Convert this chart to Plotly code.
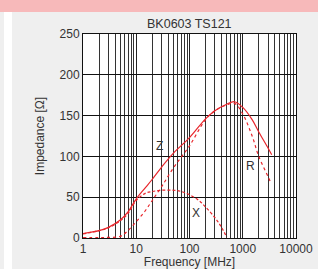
import math
import plotly.graph_objects as go

freq_z = [1, 2, 3, 5, 7, 10, 15, 20, 30, 50, 100, 200, 300, 500, 700, 1000, 1500, 2000, 3000, 3500]
z_vals = [5.5, 9, 13, 22, 32, 48, 62, 72, 87, 104, 123, 146, 156, 164, 167, 160, 145, 130, 110, 102]

freq_r = [1, 2, 3, 5, 7, 10, 15, 20, 30, 50, 100, 200, 300, 500, 700, 1000, 1500, 2000, 3000, 3300]
r_vals = [0.5, 0.5, 0.8, 2, 9, 20, 34, 46, 63, 86, 113, 145, 156, 163, 165, 152, 125, 100, 75, 69]

freq_x = [1, 2, 3, 5, 7, 10, 15, 20, 30, 50, 70, 100, 150, 200, 300, 400, 500]
x_vals = [5, 9, 12.5, 21, 30, 46, 55, 57, 58.5, 58.5, 57, 53, 46, 38, 25, 13, 1]

x_ticks = [1, 10, 100, 1000, 10000]
x_tick_text = ["1", "10", "100", "1000", "10000"]
y_ticks = [0, 50, 100, 150, 200, 250]

curve_labels = ["Z", "R", "X"]
label_freq = [27, 1400, 130]
label_imp = [113, 88, 31]

W, H = 318, 269
ML, MR, MT, MB = 83, 22, 34, 31
PW, PH = W - ML - MR, H - MT - MB

red = "#e8262c"
fig = go.Figure()
fig.add_trace(go.Scatter(x=freq_z, y=z_vals, mode="lines", line=dict(color=red, width=1.2, shape="spline")))
fig.add_trace(go.Scatter(x=freq_r, y=r_vals, mode="lines", line=dict(color=red, width=1.2, dash="dot", shape="spline")))
fig.add_trace(go.Scatter(x=freq_x, y=x_vals, mode="lines", line=dict(color=red, width=1.2, dash="3px,2px", shape="spline")))

for txt, fx, fy in zip(curve_labels, label_freq, label_imp):
    fig.add_annotation(x=math.log10(fx), y=fy, xref="x", yref="y", text=txt, showarrow=False,
                       xanchor="center", yanchor="middle", font=dict(size=12, color="#333"))

def px_x(p):
    return (p - ML) / PW

def px_y(p):
    return (H - MB - p) / PH

fig.add_shape(type="rect", xref="paper", yref="paper", x0=px_x(0), x1=px_x(W),
              y0=px_y(12), y1=px_y(0), fillcolor="#f7b9ba", line_width=0, layer="below")
fig.add_shape(type="rect", xref="paper", yref="paper", x0=px_x(4), x1=px_x(12),
              y0=px_y(H), y1=px_y(12), fillcolor="#ffffff", line_width=0, layer="below")

fig.add_annotation(x=0.5, y=px_y(24), xref="paper", yref="paper", text="BK0603 TS121",
                   showarrow=False, xanchor="center", yanchor="middle",
                   font=dict(size=12.5, color="#333"))

fig.update_layout(
    width=W, height=H,
    margin=dict(l=ML, r=MR, t=MT, b=MB, autoexpand=False),
    paper_bgcolor="#efefef", plot_bgcolor="#ffffff",
    showlegend=False,
    font=dict(family="Liberation Sans, Arial, sans-serif", size=12, color="#333"),
)
fig.update_xaxes(type="log", range=[0, 4], tickvals=x_ticks, ticktext=x_tick_text, automargin=False,
                 showgrid=True, gridcolor="#222", gridwidth=1,
                 minor=dict(dtick="D1", showgrid=True, gridcolor="#333", gridwidth=1, ticks=""),
                 showline=True, linecolor="#111", linewidth=1, mirror=True, ticks="",
                 title=dict(text="Frequency [MHz]", standoff=0, font=dict(size=12)),
                 tickfont=dict(size=12))
fig.update_yaxes(range=[0, 250], tickvals=y_ticks, automargin=False,
                 showgrid=True, gridcolor="#111", gridwidth=1,
                 showline=True, linecolor="#111", linewidth=1, mirror=True, ticks="", zeroline=False,
                 title=dict(text="Impedance [Ω]", standoff=12, font=dict(size=12)),
                 tickfont=dict(size=12))

fig.write_html("out.html", config={"displayModeBar": False},
               post_script="document.body.style.margin='0';document.body.style.padding='0';document.documentElement.style.overflow='hidden';")
